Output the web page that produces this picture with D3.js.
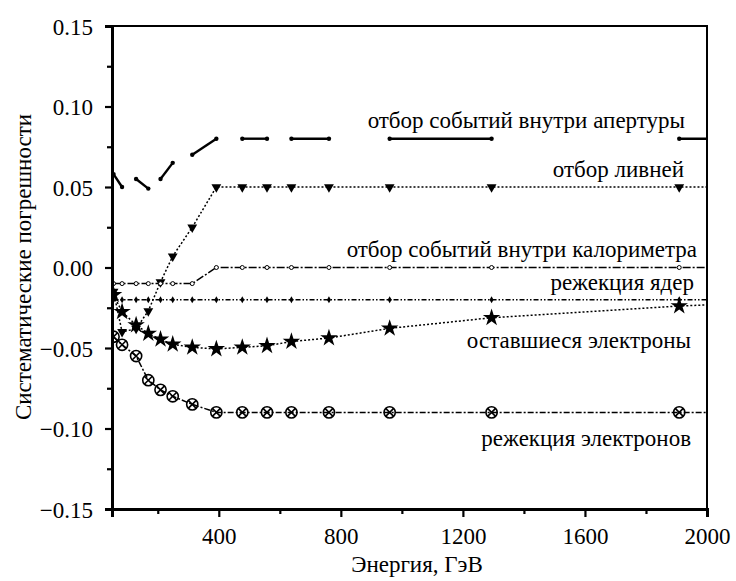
<!DOCTYPE html>
<html>
<head>
<meta charset="utf-8">
<script src="https://cdn.jsdelivr.net/npm/d3@7"></script>
<style>
  body { margin: 0; background: #fff; font-family: 'Liberation Serif', 'Times New Roman', Tinos, serif; }
  svg, svg * { font-family: 'Liberation Serif', 'Times New Roman', Tinos, serif !important; }
</style>
</head>
<body>
<svg id="chart"></svg>
<script>
{
    // energies (GeV); the last point lies beyond the axis, lines run out to the frame
    const energy = [55, 83, 129, 169, 209, 249, 313, 392, 477, 558, 638, 761, 960, 1294, 1909, 2100];

    const aperture = [0.058, 0.050, 0.055, 0.049, 0.055, 0.065, 0.070, 0.080, 0.080, 0.080, 0.080, 0.080, 0.080, 0.080, 0.080, 0.080];
    const showers = [-0.015, -0.040, -0.038, -0.027, -0.009, 0.007, 0.025, 0.050, 0.050, 0.050, 0.050, 0.050, 0.050, 0.050, 0.050, 0.050];
    const calorimeter = [-0.010, -0.010, -0.010, -0.010, -0.010, -0.010, -0.010, 0.000, 0.000, 0.000, 0.000, 0.000, 0.000, 0.000, 0.000, 0.000];
    const nuclei = [-0.020, -0.020, -0.020, -0.020, -0.020, -0.020, -0.020, -0.020, -0.020, -0.020, -0.020, -0.020, -0.020, -0.020, -0.020, -0.020];
    const electronsLeft = [-0.017, -0.0275, -0.0357, -0.041, -0.0446, -0.0477, -0.0496, -0.0506, -0.0496, -0.0486, -0.046, -0.0438, -0.0378, -0.0312, -0.0239, -0.0225];
    const electronRejection = [-0.043, -0.048, -0.055, -0.070, -0.076, -0.080, -0.085, -0.090, -0.090, -0.090, -0.090, -0.090, -0.090, -0.090, -0.090, -0.090];

    const seriesLabels = [
        "отбор событий внутри апертуры",
        "отбор ливней",
        "отбор событий внутри калориметра",
        "режекция ядер",
        "оставшиеся электроны",
        "режекция электронов"
    ];

    const xTicks = [400, 800, 1200, 1600, 2000];
    const xMinor = [200, 600, 1000, 1400, 1800];
    const yTicks = [-0.15, -0.10, -0.05, 0.00, 0.05, 0.10, 0.15];
    const yMinor = [-0.125, -0.075, -0.025, 0.025, 0.075, 0.125];

    const margin = {top: 26, right: 29, bottom: 72, left: 112},
        width = 736 - margin.left - margin.right,
        height = 581 - margin.top - margin.bottom;

    const svg = d3.select("#chart")
        .attr("width", 736)
        .attr("height", 581);

    const chart = svg.append("g")
        .attr("transform", `translate(${margin.left}, ${margin.top})`);

    const x = d3.scaleLinear().domain([50, 2000]).range([0, width]);
    const y = d3.scaleLinear().domain([-0.15, 0.15]).range([height, 0]);

    chart.append("clipPath").attr("id", "plot")
        .append("rect").attr("width", width).attr("height", height);

    const plot = chart.append("g").attr("clip-path", "url(#plot)");

    const line = d3.line().x((d, i) => x(energy[i])).y(d => y(d));

    // aperture series: every other segment is drawn
    const apertureSegs = [];
    for (let i = 0; i < energy.length - 1; i += 2) {
        apertureSegs.push([[energy[i], aperture[i]], [energy[i + 1], aperture[i + 1]]]);
    }
    plot.selectAll(".ap-seg")
        .data(apertureSegs)
        .enter()
            .append("path")
            .attr("class", "ap-seg")
            .attr("d", d3.line().x(d => x(d[0])).y(d => y(d[1])))
            .attr("fill", "none")
            .attr("stroke", "#000")
            .attr("stroke-width", 2.4);

    const styled = [
        {data: showers, dash: "2,2"},
        {data: calorimeter, dash: "8,2,2,2"},
        {data: nuclei, dash: "5,2,1.5,2,1.5,2"},
        {data: electronsLeft, dash: "2,2"},
        {data: electronRejection, dash: "6,2,2,2"}
    ];

    plot.selectAll(".series")
        .data(styled)
        .enter()
            .append("path")
            .attr("class", "series")
            .attr("d", d => line(d.data))
            .attr("fill", "none")
            .attr("stroke", "#000")
            .attr("stroke-width", 1.5)
            .attr("stroke-dasharray", d => d.dash);

    // markers
    plot.selectAll(".m-ap")
        .data(aperture)
        .enter()
            .append("circle")
            .attr("cx", (d, i) => x(energy[i]))
            .attr("cy", d => y(d))
            .attr("r", 2.2);

    plot.selectAll(".m-sh")
        .data(showers)
        .enter()
            .append("path")
            .attr("d", d3.symbol(d3.symbolTriangle, 42))
            .attr("transform", (d, i) => `translate(${x(energy[i])}, ${y(d)}) rotate(180)`);

    plot.selectAll(".m-cal")
        .data(calorimeter)
        .enter()
            .append("circle")
            .attr("cx", (d, i) => x(energy[i]))
            .attr("cy", d => y(d))
            .attr("r", 2)
            .attr("fill", "#fff")
            .attr("stroke", "#000")
            .attr("stroke-width", 1);

    plot.selectAll(".m-nu")
        .data(nuclei)
        .enter()
            .append("path")
            .attr("d", d3.symbol(d3.symbolDiamond, 14))
            .attr("transform", (d, i) => `translate(${x(energy[i])}, ${y(d)})`);

    plot.selectAll(".m-el")
        .data(electronsLeft)
        .enter()
            .append("path")
            .attr("d", d3.symbol(d3.symbolStar, 95))
            .attr("transform", (d, i) => `translate(${x(energy[i])}, ${y(d)})`);

    const cross = plot.selectAll(".m-rej")
        .data(electronRejection)
        .enter()
            .append("g")
            .attr("transform", (d, i) => `translate(${x(energy[i])}, ${y(d)})`)
            .attr("stroke", "#000")
            .attr("stroke-width", 1.6)
            .attr("fill", "none");
    cross.append("circle").attr("r", 5.6);
    cross.append("path").attr("d", "M-4,-4L4,4M-4,4L4,-4");

    // frame
    chart.append("rect")
        .attr("width", width)
        .attr("height", height)
        .attr("fill", "none")
        .attr("stroke", "#000")
        .attr("stroke-width", 2);

    // axes
    const xAxis = chart.append("g")
        .attr("transform", `translate(0, ${height})`)
        .call(d3.axisBottom(x).tickValues(xTicks).tickSize(8).tickPadding(6).tickFormat(d3.format("d")));
    chart.append("g")
        .attr("transform", `translate(0, ${height})`)
        .call(d3.axisBottom(x).tickValues(xMinor).tickSize(5).tickFormat(""));

    const yAxis = chart.append("g")
        .call(d3.axisLeft(y).tickValues(yTicks).tickSize(7).tickPadding(12).tickFormat(d3.format(".2f")));
    chart.append("g")
        .call(d3.axisLeft(y).tickValues(yMinor).tickSize(5).tickFormat(""));

    chart.selectAll(".domain").attr("stroke-width", 3);
    chart.selectAll(".tick line").attr("stroke-width", 2.2);
    chart.selectAll(".tick text")
        .attr("font-size", 23)
        .attr("fill", "#000");
    xAxis.selectAll(".tick text").attr("dy", "0.9em");
    yAxis.selectAll(".tick text").attr("dy", "0.35em");

    // series labels
    const labelPos = [
        {x: 685, y: 128},
        {x: 684, y: 177},
        {x: 697, y: 257},
        {x: 694, y: 290},
        {x: 691, y: 348},
        {x: 691, y: 446}
    ];
    svg.selectAll(".lbl")
        .data(seriesLabels)
        .enter()
            .append("text")
            .attr("class", "lbl")
            .attr("x", (d, i) => labelPos[i].x)
            .attr("y", (d, i) => labelPos[i].y)
            .attr("text-anchor", "end")
            .attr("font-size", 23)
            .text(d => d);

    svg.append("text")
        .attr("x", 417)
        .attr("y", 572)
        .attr("text-anchor", "middle")
        .attr("font-size", 23)
        .text("Энергия, ГэВ");

    svg.append("text")
        .attr("transform", "translate(31, 267) rotate(-90)")
        .attr("text-anchor", "middle")
        .attr("font-size", 23)
        .text("Систематические погрешности");
}
</script>
</body>
</html>
